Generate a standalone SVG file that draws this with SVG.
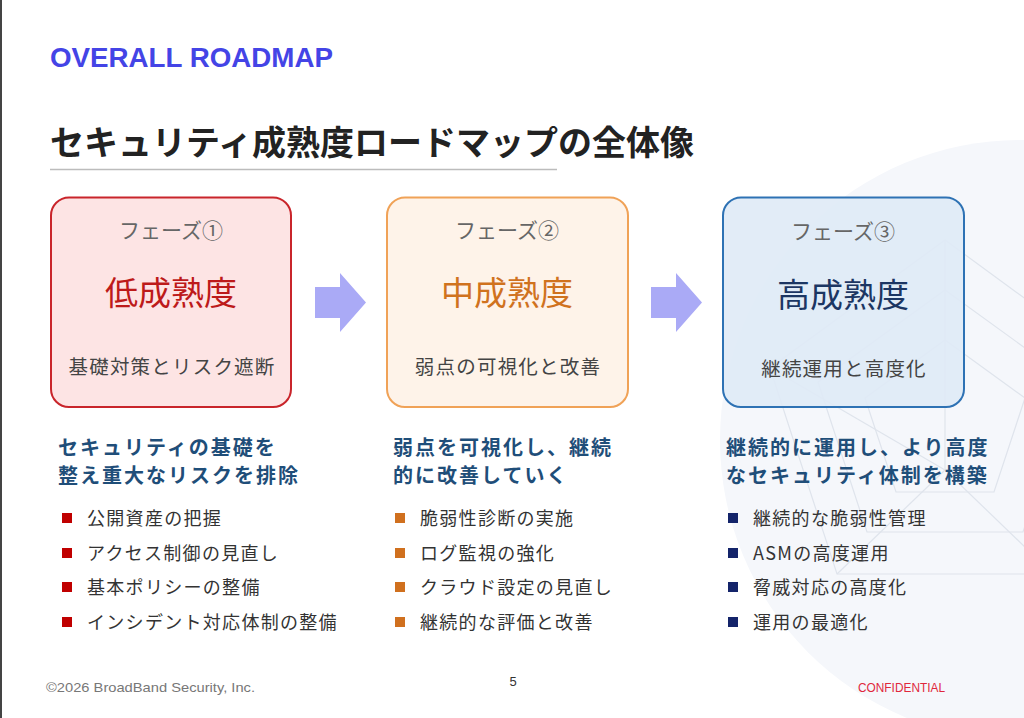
<svg xmlns="http://www.w3.org/2000/svg" width="1024" height="718" viewBox="0 0 1024 718">
<defs>
<style>
.jp{font-family:"Noto Sans CJK JP","Noto Sans",sans-serif}
.phase{font-size:21px;fill:#666;text-anchor:middle}
.lvl{font-size:33px;text-anchor:middle}
.sub{font-size:19.5px;fill:#444;text-anchor:middle;letter-spacing:1.2px}
.head{font-size:20px;font-weight:700;fill:#1f4e79;letter-spacing:2px}
.item{font-size:18px;fill:#333;letter-spacing:1.3px}
.deco{fill:none;stroke:#dfe4ec;stroke-width:1.2}
.arrow{fill:#aaaaf6}
</style>
</defs>
<rect width="1024" height="718" fill="#ffffff"/>
<g id="background">
<circle cx="1020" cy="440" r="300" fill="#f5f7fb"/>
<polygon class="deco" points="945,240 1120,368 1053,574 837,574 770,368"/>
<polygon class="deco" points="945,290 1072,382 1023,532 867,532 818,382"/>
<polygon class="deco" points="945,340 1025,398 994,492 896,492 865,398"/>
<line class="deco" x1="945" y1="240" x2="945" y2="470"/>
<line class="deco" x1="770" y1="368" x2="945" y2="470"/>
<line class="deco" x1="1053" y1="574" x2="945" y2="470"/>
<line class="deco" x1="837" y1="574" x2="945" y2="470"/>
</g>
<line x1="1" y1="0" x2="1" y2="718" stroke="#444" stroke-width="2"/>
<g id="header">
<text x="50" y="67" font-family="Liberation Sans, Arial, sans-serif" font-weight="700" font-size="27" fill="#4444e6" textLength="283" lengthAdjust="spacingAndGlyphs">OVERALL ROADMAP</text>
<text class="jp" x="50" y="155" font-size="34" font-weight="700" fill="#222">セキュリティ成熟度ロードマップの全体像</text>
<line x1="50" y1="169.5" x2="557" y2="169.5" stroke="#bcbcbc" stroke-width="1.5"/>
</g>
<g id="connectors">
<polygon class="arrow" points="315,287 340,287 340,273 366,302.5 340,332 340,318 315,318"/>
<polygon class="arrow" points="651,287 676,287 676,273 702,302.5 676,332 676,318 651,318"/>
</g>
<g id="phase1">
<rect x="51" y="197.5" width="240" height="209.5" rx="18" fill="#fde4e4" stroke="#c9252b" stroke-width="2"/>
<text class="jp phase" x="171" y="238">フェーズ①</text>
<text class="jp lvl" x="171" y="305" fill="#bd1a1a">低成熟度</text>
<text class="jp sub" x="172" y="374">基礎対策とリスク遮断</text>
</g>
<g id="phase2">
<rect x="387" y="197.5" width="241" height="209.5" rx="18" fill="#fef3e9" stroke="#f0a257" stroke-width="2"/>
<text class="jp phase" x="507" y="238">フェーズ②</text>
<text class="jp lvl" x="507" y="305" fill="#d0721e">中成熟度</text>
<text class="jp sub" x="508" y="374">弱点の可視化と改善</text>
</g>
<g id="phase3">
<rect x="723" y="197.5" width="241" height="209.5" rx="18" fill="#dfeaf6" fill-opacity="0.9" stroke="#2e72b4" stroke-width="2"/>
<text class="jp phase" x="843" y="239">フェーズ③</text>
<text class="jp lvl" x="843" y="307" fill="#1c3663">高成熟度</text>
<text class="jp sub" x="844" y="376">継続運用と高度化</text>
</g>
<g id="detail1">
<text class="jp head" x="58" y="455">セキュリティの基礎を</text>
<text class="jp head" x="58" y="483">整え重大なリスクを排除</text>
<g fill="#c00000">
<rect x="62" y="513" width="10" height="10"/>
<rect x="62" y="548" width="10" height="10"/>
<rect x="62" y="582" width="10" height="10"/>
<rect x="62" y="617" width="10" height="10"/>
</g>
<text class="jp item" x="87" y="525">公開資産の把握</text>
<text class="jp item" x="87" y="560">アクセス制御の見直し</text>
<text class="jp item" x="87" y="594">基本ポリシーの整備</text>
<text class="jp item" x="87" y="629">インシデント対応体制の整備</text>
</g>
<g id="detail2">
<text class="jp head" x="393" y="455">弱点を可視化し、継続</text>
<text class="jp head" x="393" y="483">的に改善していく</text>
<g fill="#d0701e">
<rect x="395" y="513" width="10" height="10"/>
<rect x="395" y="548" width="10" height="10"/>
<rect x="395" y="582" width="10" height="10"/>
<rect x="395" y="617" width="10" height="10"/>
</g>
<text class="jp item" x="420" y="525">脆弱性診断の実施</text>
<text class="jp item" x="420" y="560">ログ監視の強化</text>
<text class="jp item" x="420" y="594">クラウド設定の見直し</text>
<text class="jp item" x="420" y="629">継続的な評価と改善</text>
</g>
<g id="detail3">
<text class="jp head" x="726" y="455">継続的に運用し、より高度</text>
<text class="jp head" x="726" y="483">なセキュリティ体制を構築</text>
<g fill="#14246a">
<rect x="728" y="513" width="10" height="10"/>
<rect x="728" y="548" width="10" height="10"/>
<rect x="728" y="582" width="10" height="10"/>
<rect x="728" y="617" width="10" height="10"/>
</g>
<text class="jp item" x="753" y="525">継続的な脆弱性管理</text>
<text class="jp item" x="753" y="560">ASMの高度運用</text>
<text class="jp item" x="753" y="594">脅威対応の高度化</text>
<text class="jp item" x="753" y="629">運用の最適化</text>
</g>
<g id="footer" font-family="Liberation Sans, Arial, sans-serif">
<text x="46" y="692" font-size="13" fill="#777" textLength="209" lengthAdjust="spacingAndGlyphs">©2026 BroadBand Security, Inc.</text>
<text x="513" y="686" font-size="13" fill="#333" text-anchor="middle">5</text>
<text x="858" y="692" font-size="12" fill="#e0283c" textLength="87" lengthAdjust="spacingAndGlyphs">CONFIDENTIAL</text>
</g>
</svg>
